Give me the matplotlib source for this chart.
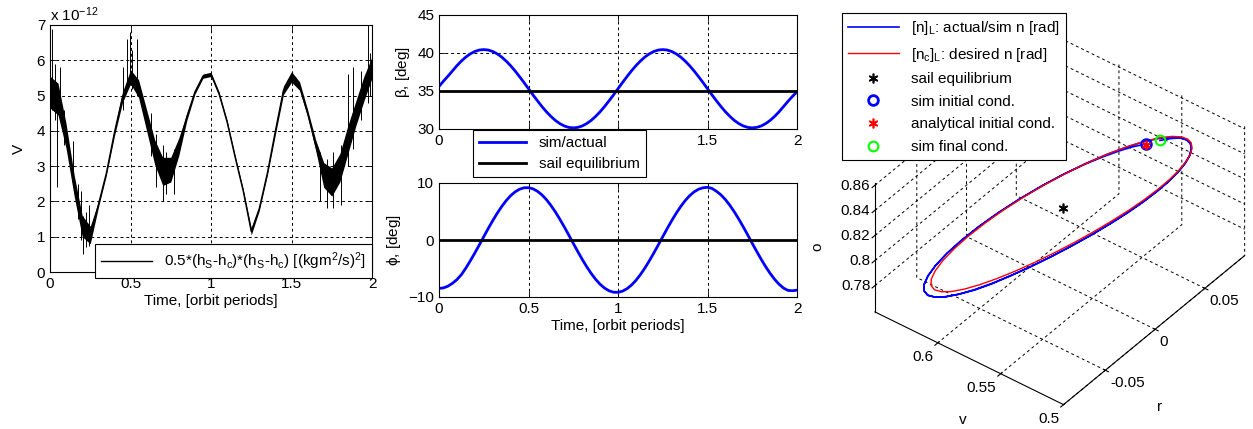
import numpy as np
import matplotlib
matplotlib.use('Agg')
import matplotlib.pyplot as plt

plt.rcParams['font.family'] = ['Liberation Sans', 'DejaVu Sans']
plt.rcParams['font.size'] = 11
plt.rcParams['mathtext.fontset'] = 'custom'
plt.rcParams['mathtext.rm'] = 'Liberation Sans'
plt.rcParams['mathtext.it'] = 'Liberation Sans:italic'

# ---- left panel: V (units of 1e-12), read at 0.05 orbit steps ----
t_v = np.linspace(0, 2, 41)
V_mid = [5.1, 4.9, 3.85, 2.45, 1.3, 1.05, 1.9, 2.8, 3.95, 4.95,
         5.53, 5.2, 4.3, 3.4, 2.85, 2.9, 3.55, 4.4, 5.1, 5.55,
         5.6, 5.05, 4.25, 3.25, 2.3, 1.15, 1.8, 2.8, 4.0, 5.15,
         5.53, 5.27, 4.5, 3.6, 2.75, 2.55, 2.95, 3.75, 4.5, 5.2, 5.8]
V_half = [0.45, 0.45, 0.35, 0.3, 0.3, 0.25, 0.08, 0.06, 0.1, 0.15,
          0.2, 0.25, 0.3, 0.35, 0.4, 0.35, 0.25, 0.1, 0.06, 0.06,
          0.06, 0.06, 0.06, 0.06, 0.06, 0.1, 0.06, 0.06, 0.1, 0.12,
          0.15, 0.12, 0.1, 0.15, 0.35, 0.4, 0.4, 0.4, 0.35, 0.35, 0.3]
spike_t = [0.012, 0.028, 0.045, 0.06, 0.09, 0.14, 0.175, 0.19, 0.205, 0.225, 0.24,
           0.455, 0.48, 0.495, 0.51, 0.54, 0.63, 0.66, 0.7, 0.72, 0.77,
           1.68, 1.72, 1.76, 1.81, 1.85, 1.88, 1.93, 1.975, 1.99]
spike_lo = [4.6, 4.3, 2.4, 4.3, 3.6, 2.5, 1.5, 0.9, 0.5, 0.7, 0.75,
            4.6, 5.2, 5.3, 5.2, 5.0, 3.3, 2.4, 2.0, 2.2, 2.2,
            2.0, 1.8, 1.8, 1.9, 3.0, 3.5, 4.3, 4.8, 5.0]
spike_hi = [6.9, 5.9, 5.0, 5.8, 4.6, 3.7, 2.5, 2.3, 1.6, 1.7, 1.9,
            5.8, 6.6, 6.8, 6.3, 6.6, 4.5, 3.9, 3.6, 3.4, 3.5,
            3.4, 3.2, 3.4, 3.6, 5.6, 5.8, 5.7, 7.0, 6.2]

# ---- middle panels: beta, phi [deg] read at 0.025 orbit steps ----
t_ang = np.linspace(0, 2, 81)
beta_sim = [35.6, 36.3, 36.95, 37.64, 38.33, 38.94, 39.47, 39.89, 40.20, 40.39,
            40.45, 40.39, 40.20, 39.89, 39.47, 38.94, 38.33, 37.64, 36.89, 36.11,
            35.30, 34.49, 33.71, 32.96, 32.27, 31.66, 31.13, 30.71, 30.40, 30.21,
            30.15, 30.21, 30.40, 30.71, 31.13, 31.66, 32.27, 32.96, 33.71, 34.49,
            35.30,
            36.11, 36.89, 37.64, 38.33, 38.94, 39.47, 39.89, 40.20, 40.39, 40.45,
            40.39, 40.20, 39.89, 39.47, 38.94, 38.33, 37.64, 36.89, 36.11, 35.30,
            34.49, 33.71, 32.96, 32.27, 31.66, 31.13, 30.71, 30.40, 30.21, 30.15,
            30.21, 30.40, 30.71, 31.13, 31.66, 32.27, 32.96, 33.65, 34.3, 34.9]
phi_sim = [-8.5, -8.4, -8.1, -7.6, -6.95, -6.08, -4.93, -3.65, -2.29, -0.87,
           0.58, 2.01, 3.39, 4.68, 5.86, 6.90, 7.77, 8.44, 8.91, 9.16,
           9.18, 8.98, 8.55, 7.92, 7.09, 6.08, 4.93, 3.65, 2.29, 0.87,
           -0.58, -2.01, -3.39, -4.68, -5.86, -6.90, -7.77, -8.44, -8.91, -9.16,
           -9.18,
           -8.98, -8.55, -7.92, -7.09, -6.08, -4.93, -3.65, -2.29, -0.87, 0.58,
           2.01, 3.39, 4.68, 5.86, 6.90, 7.77, 8.44, 8.91, 9.16, 9.25,
           9.05, 8.55, 7.92, 7.09, 6.08, 4.93, 3.65, 2.29, 0.87, -0.58,
           -2.01, -3.39, -4.68, -5.86, -6.90, -7.77, -8.44, -8.85, -8.9, -8.8]
beta_eq = 35.0
phi_eq = 0.0

# desired attitude, one orbit (0.025 steps)
beta_des = [35.25, 36.03, 36.80, 37.52, 38.19, 38.79, 39.30, 39.71, 40.01, 40.19,
            40.25, 40.19, 40.01, 39.71, 39.30, 38.79, 38.19, 37.52, 36.80, 36.03,
            35.25, 34.47, 33.70, 32.98, 32.31, 31.71, 31.20, 30.80, 30.49, 30.31,
            30.25, 30.31, 30.49, 30.80, 31.20, 31.71, 32.31, 32.98, 33.70, 34.47,
            35.25]
phi_des = [-9.28, -9.08, -8.67, -8.05, -7.23, -6.25, -5.12, -3.87, -2.54, -1.15,
           0.27, 1.66, 3.01, 4.28, 5.44, 6.45, 7.30, 7.96, 8.42, 8.66,
           8.68, 8.48, 8.07, 7.45, 6.63, 5.65, 4.52, 3.27, 1.94, 0.55,
           -0.87, -2.26, -3.61, -4.88, -6.04, -7.05, -7.90, -8.56, -9.02, -9.26,
           -9.28]
beta_ana0, phi_ana0 = 35.5, -8.4


def normal(beta, phi):
    # sail normal components (r, v, o) from cone/clock angles
    b = np.deg2rad(np.asarray(beta, dtype=float))
    p = np.deg2rad(np.asarray(phi, dtype=float))
    return -np.sin(b) * np.sin(p), np.sin(b) * np.cos(p), np.cos(b)


fig = plt.figure(figsize=(12.53, 4.29), dpi=100)
W, H = 1253.0, 429.0


def box(x0, y0, x1, y1):
    return [x0 / W, 1 - y1 / H, (x1 - x0) / W, (y1 - y0) / H]


grid_kw = dict(color='k', linestyle=(0, (3, 3)), linewidth=0.7)
ticks_t = [0, 0.5, 1, 1.5, 2]
labels_t = ['0', '0.5', '1', '1.5', '2']

# left
ax1 = fig.add_axes(box(50, 25, 372, 272))
V_mid = np.array(V_mid)
V_half = np.array(V_half)
ax1.fill_between(t_v, V_mid - V_half, V_mid + V_half, color='k', lw=0)
ax1.plot(t_v, V_mid, color='k', lw=1,
         label=r'0.5*(h$_\mathregular{S}$-h$_\mathregular{c}$)*(h$_\mathregular{S}$-h$_\mathregular{c}$) [(kgm$^\mathregular{2}$/s)$^\mathregular{2}$]')
ax1.vlines(spike_t, spike_lo, spike_hi, color='k', lw=0.7)
ax1.set_xlim(0, 2)
ax1.set_ylim(0, 7)
ax1.set_xticks(ticks_t)
ax1.set_xticklabels(labels_t)
ax1.grid(True, **grid_kw)
ax1.set_xlabel('Time, [orbit periods]', labelpad=2)
ax1.set_ylabel('V', labelpad=8)
ax1.text(0.0, 1.005, r'x 10$^\mathregular{-12}$', transform=ax1.transAxes, fontsize=11, va='bottom')
leg1 = ax1.legend(loc='lower right', bbox_to_anchor=(372 / W, 1 - 278 / H), bbox_transform=fig.transFigure,
                  fancybox=False, edgecolor='k', framealpha=1, borderaxespad=0, handlelength=3.3)
leg1.get_frame().set_linewidth(0.8)

# middle top
ax2 = fig.add_axes(box(439, 15, 797, 129))
l_sim, = ax2.plot(t_ang, beta_sim, color='#0000ff', lw=2, label='sim/actual')
l_eq = ax2.axhline(beta_eq, color='k', lw=2, label='sail equilibrium')
ax2.set_xlim(0, 2)
ax2.set_ylim(30, 45)
ax2.set_yticks([30, 35, 40, 45])
ax2.set_xticks(ticks_t)
ax2.set_xticklabels(['0', '', '', '1.5', '2'])  # 0.5 and 1 sit under the legend
ax2.grid(True, **grid_kw)
ax2.set_ylabel(r'$\mathregular{\beta}$, [deg]', labelpad=4)

# middle bottom
ax3 = fig.add_axes(box(439, 183, 797, 297))
ax3.plot(t_ang, phi_sim, color='#0000ff', lw=2)
ax3.axhline(phi_eq, color='k', lw=2)
ax3.set_xlim(0, 2)
ax3.set_ylim(-10, 10)
ax3.set_yticks([-10, 0, 10])
ax3.set_xticks(ticks_t)
ax3.set_xticklabels(labels_t)
ax3.grid(True, **grid_kw)
ax3.set_ylabel(r'$\mathregular{\phi}$, [deg]', labelpad=4)
ax3.set_xlabel('Time, [orbit periods]', labelpad=2)

for a in (ax1, ax2, ax3):
    a.tick_params(direction='in', length=4, width=0.6, top=True, right=True)
    for s in a.spines.values():
        s.set_linewidth(0.8)

leg2 = fig.legend(handles=[l_sim, l_eq], loc='upper left', bbox_to_anchor=(473 / W, 1 - 130 / H),
                  fancybox=False, edgecolor='k', framealpha=1, borderaxespad=0, handlelength=3.1,
                  labelspacing=0.45)
leg2.get_frame().set_linewidth(0.8)

# 3D panel
ax4 = fig.add_axes([0.6687, -0.0243, 0.345, 1.0], projection='3d', proj_type='ortho')
rs, vs, os_ = normal(beta_sim, phi_sim)
rd, vd, od = normal(beta_des, phi_des)
re, ve, oe = normal(beta_eq, phi_eq)
ra, va, oa = normal(beta_ana0, phi_ana0)
h1, = ax4.plot(rs, vs, os_, color='#0000ff', lw=1.2, label=r'[n]$_\mathregular{L}$: actual/sim n [rad]')
h2, = ax4.plot(rd, vd, od, color='#ff0000', lw=1.0, label=r'[n$_\mathregular{c}$]$_\mathregular{L}$: desired n [rad]')
h3, = ax4.plot([re], [ve], [oe], ls='none', marker=(6, 2, 0), ms=7, mec='k', mew=1.2, color='k',
               label='sail equilibrium')
h4, = ax4.plot([rs[0]], [vs[0]], [os_[0]], ls='none', marker='o', ms=7, mfc='none', mec='#0000ff', mew=2,
               label='sim initial cond.')
h5, = ax4.plot([ra], [va], [oa], ls='none', marker=(6, 2, 0), ms=7, mec='#ff0000', mew=1.2, color='#ff0000',
               label='analytical initial cond.')
h6, = ax4.plot([rs[-1]], [vs[-1]], [os_[-1]], ls='none', marker='o', ms=7, mfc='none', mec='#00ff00', mew=1.5,
               label='sim final cond.')
ax4.set_xlim(-0.092, 0.09)
ax4.set_ylim(0.5, 0.65)
ax4.set_zlim(0.759, 0.862)
ax4.set_xticks([-0.05, 0, 0.05])
ax4.set_xticklabels(['-0.05', '0', '0.05'])
ax4.set_yticks([0.5, 0.55, 0.6])
ax4.set_yticklabels(['0.5', '0.55', '0.6'])
ax4.set_zticks([0.78, 0.8, 0.82, 0.84, 0.86])
ax4.set_zticklabels(['0.78', '0.8', '0.82', '0.84', '0.86'])
for lab in ax4.get_zticklabels():
    lab.set_ha('right')
    lab.set_va('center')
for lab in ax4.get_yticklabels():
    lab.set_ha('right')
    lab.set_va('top')
for lab in ax4.get_xticklabels():
    lab.set_ha('left')
    lab.set_va('top')
ax4.tick_params(axis='z', pad=-6)
ax4.tick_params(axis='y', pad=-4)
ax4.tick_params(axis='x', pad=-4)
ax4.set_box_aspect((297, 239, 168), zoom=0.94)
ax4.view_init(elev=39.5, azim=-142.3)
for axis in (ax4.xaxis, ax4.yaxis, ax4.zaxis):
    axis.set_pane_color((1, 1, 1, 0))
    axis.pane.set_edgecolor('none')
    axis._axinfo['grid'].update(color='k', linestyle=(0, (3, 3)), linewidth=0.7)
    axis.line.set_color('k')
    axis.line.set_linewidth(0.8)
# axis titles placed like the original figure
fig.text(1160 / W, 1 - 407 / H, 'r', ha='center', va='center')
fig.text(963 / W, 1 - 420 / H, 'v', ha='center', va='center')
fig.text(817 / W, 1 - 247 / H, 'o', ha='center', va='center', rotation=90)

leg4 = fig.legend(handles=[h1, h2, h3, h4, h5, h6], loc='upper left', bbox_to_anchor=(842 / W, 1 - 13 / H),
                  fancybox=False, edgecolor='k', framealpha=1, borderaxespad=0, handlelength=3.3,
                  labelspacing=0.56)
leg4.get_frame().set_linewidth(0.8)

fig.savefig('out.png', dpi=100)
